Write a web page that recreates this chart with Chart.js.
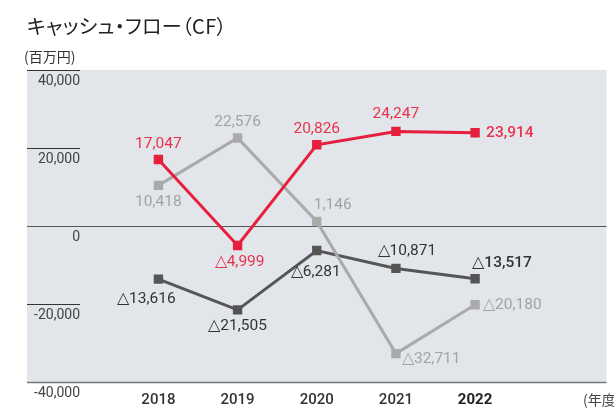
<!DOCTYPE html>
<html>
<head>
<meta charset="utf-8">
<script src="https://cdn.jsdelivr.net/npm/chart.js@4"></script>
<style>
  html, body { margin: 0; padding: 0; background: #fff; }
  #wrap { position: relative; width: 614px; height: 409px; }
  #title { position: absolute; left: 27px; top: 11px; font: 20px "Noto Sans CJK JP", sans-serif; color: #222; font-feature-settings: "palt"; letter-spacing: 0.3px; }
  #unit { position: absolute; left: 24px; top: 46px; font: 14px "Noto Sans CJK JP", sans-serif; color: #333; }
</style>
</head>
<body>
<div id="wrap">
  <canvas id="chart" width="614" height="409"></canvas>
  <div id="title">キャッシュ・フロー（CF）</div>
  <div id="unit">(百万円)</div>
</div>
<script>
const years = [2018, 2019, 2020, 2021, 2022];
const operatingCF = [17047, -4999, 20826, 24247, 23914];
const financingCF = [10418, 22576, 1146, -32711, -20180];
const investingCF = [-13616, -21505, -6281, -10871, -13517];
const yTicks = [40000, 20000, 0, -20000, -40000];

// label placement per point: [dx, dy, align]
const opPos  = [[0, -15, "center"], [2, 17, "center"], [0, -16, "center"], [0, -17, "center"], [11, 0, "left"]];
const finPos = [[0, 17, "center"], [0, -16, "center"], [16, -16, "center"], [6, 6, "left"], [8, 0, "left"]];
const invPos = [[-12, 20, "center"], [0, 16, "center"], [-1, 22, "center"], [11, -17, "center"], [27, -16, "center"]];

const fmt = v => (v < 0 ? "△" : "") + Math.abs(v).toLocaleString("en-US");
const numFont = "Roboto, 'Liberation Sans', sans-serif";

const series = [
  { values: operatingCF, color: "#e61f3d", text: "#e8334c", pos: opPos, boldLast: true },
  { values: financingCF, color: "#aaaaaa", text: "#a3a3a3", pos: finPos, boldLast: false },
  { values: investingCF, color: "#555555", text: "#333333", pos: invPos, boldLast: true }
];

const decor = {
  id: "decor",
  beforeDatasetsDraw(chart) {
    const { ctx, chartArea: a, scales: { x, y } } = chart;
    ctx.save();
    ctx.fillStyle = "#e2e6ea";
    ctx.fillRect(a.left, a.top, a.right - a.left, a.bottom - a.top);
    yTicks.forEach(t => {
      const py = Math.round(y.getPixelForValue(t)) + 0.5;
      const full = t === 0 || t === -40000;
      ctx.strokeStyle = t === 0 ? "#555" : (t === -40000 ? "#777" : "#333");
      ctx.lineWidth = t === -40000 ? 1.5 : 1;
      ctx.beginPath();
      ctx.moveTo(a.left, py);
      ctx.lineTo(full ? a.right : 80, py);
      ctx.stroke();
      ctx.fillStyle = "#444";
      ctx.font = "14px " + numFont;
      ctx.textAlign = "right";
      ctx.textBaseline = "middle";
      ctx.fillText(t.toLocaleString("en-US"), 80, py + 11);
    });
    years.forEach((yr, i) => {
      const last = i === years.length - 1;
      ctx.fillStyle = last ? "#222" : "#333";
      ctx.font = (last ? "bold " : "500 ") + "15px " + numFont;
      ctx.textAlign = "center";
      ctx.fillText(String(yr), x.getPixelForValue(yr), 400);
    });
    ctx.fillStyle = "#444";
    ctx.font = "14px 'Noto Sans CJK JP', sans-serif";
    ctx.textAlign = "left";
    ctx.fillText("(年度)", 583, 400);
    ctx.restore();
  },
  afterDatasetsDraw(chart) {
    const { ctx, scales: { x, y } } = chart;
    ctx.save();
    ctx.textBaseline = "middle";
    series.forEach(s => {
      s.values.forEach((v, i) => {
        const [dx, dy, align] = s.pos[i];
        const bold = s.boldLast && i === years.length - 1;
        ctx.fillStyle = s.text;
        ctx.font = (bold ? "500 " : "") + "15.5px " + numFont;
        ctx.textAlign = align;
        ctx.fillText(fmt(v), x.getPixelForValue(years[i]) + dx, y.getPixelForValue(v) + dy);
      });
    });
    ctx.restore();
  }
};

new Chart(document.getElementById("chart"), {
  type: "line",
  data: {
    datasets: series.map(s => ({
      data: s.values.map((v, i) => ({ x: years[i], y: v })),
      borderColor: s.color,
      backgroundColor: s.color,
      borderWidth: 3,
      pointStyle: "rect",
      pointRadius: 4.5,
      pointHoverRadius: 4.5,
      tension: 0
    }))
  },
  options: {
    responsive: false,
    animation: false,
    layout: { padding: { left: 27, top: 70, right: 0, bottom: 27 } },
    plugins: { legend: { display: false }, tooltip: { enabled: false } },
    scales: {
      x: { type: "linear", min: 2016.34, max: 2023.66, display: false },
      y: { min: -40000, max: 40000, display: false }
    }
  },
  plugins: [decor]
});
</script>
</body>
</html>
